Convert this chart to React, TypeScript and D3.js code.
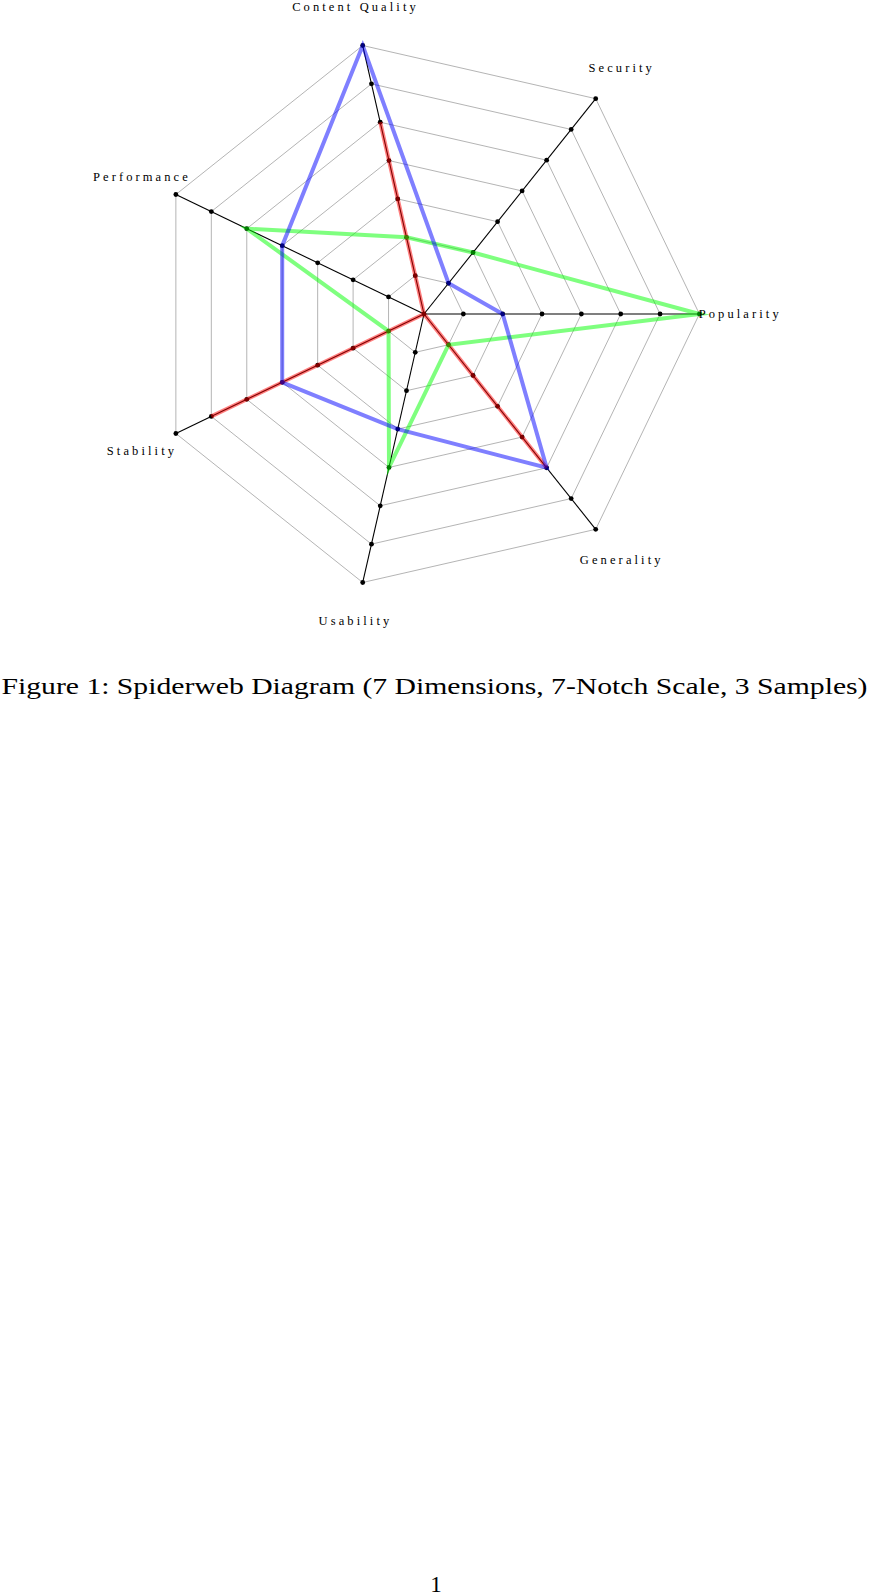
import { useEffect, useRef } from "react";
import * as d3 from "d3";

// spiderweb data: 7 dimensions, 7-notch scale, 3 samples
const axes = [
  "Popularity",
  "Security",
  "Content Quality",
  "Performance",
  "Stability",
  "Usability",
  "Generality",
];
const notches = [1, 2, 3, 4, 5, 6, 7];
const blueSample = [2, 1, 7, 4, 4, 3, 5];
const greenSample = [7, 2, 2, 5, 1, 4, 1];
const redSample = [0, 0, 5, 0, 6, 0, 5];
const caption =
  "Figure 1: Spiderweb Diagram (7 Dimensions, 7-Notch Scale, 3 Samples)";
const pageNumber = "1";

export default function App() {
  const svgRef = useRef<SVGSVGElement | null>(null);
  const width = 869;
  const height = 1596;
  const cx = 424;
  const cy = 314;
  const radius = 275.4;

  const renderChart = () => {
    const rScale = d3.scaleLinear().domain([0, 7]).range([0, radius]);
    // radial angle: 0 = up, clockwise; first axis points right, then counter-clockwise
    const aScale = d3
      .scaleLinear()
      .domain([0, axes.length])
      .range([Math.PI / 2, Math.PI / 2 - 2 * Math.PI]);

    const pt = (i: number, v: number): [number, number] => {
      const a = aScale(i);
      return [rScale(v) * Math.sin(a), -rScale(v) * Math.cos(a)];
    };

    const svg = d3.select(svgRef.current);
    svg.selectAll("*").remove();

    const g = svg.append("g").attr("transform", `translate(${cx},${cy})`);

    const radial = d3
      .lineRadial<number>()
      .angle((_, i) => aScale(i))
      .radius((d) => rScale(d))
      .curve(d3.curveLinearClosed);

    // grid rings
    g.selectAll(".ring")
      .data(notches)
      .enter()
      .append("path")
      .attr("class", "ring")
      .attr("d", (n) => radial(axes.map(() => n)))
      .attr("fill", "none")
      .attr("stroke", "#a6a6a6")
      .attr("stroke-width", 0.85);

    // axes
    g.selectAll(".axis")
      .data(axes)
      .enter()
      .append("line")
      .attr("class", "axis")
      .attr("x1", 0)
      .attr("y1", 0)
      .attr("x2", (_, i) => pt(i, 7)[0])
      .attr("y2", (_, i) => pt(i, 7)[1])
      .attr("stroke", "#000")
      .attr("stroke-width", 1.1);

    // notch dots
    const dots = axes.flatMap((_, i) => notches.map((n) => pt(i, n)));
    dots.push([0, 0]);
    g.selectAll(".notch")
      .data(dots)
      .enter()
      .append("circle")
      .attr("class", "notch")
      .attr("cx", (d) => d[0])
      .attr("cy", (d) => d[1])
      .attr("r", 2.4)
      .attr("fill", "#000");

    // samples
    const samples = [
      { values: redSample, color: "rgb(255,0,0)" },
      { values: greenSample, color: "rgb(0,255,0)" },
      { values: blueSample, color: "rgb(0,0,255)" },
    ];
    g.selectAll(".sample")
      .data(samples)
      .enter()
      .append("path")
      .attr("class", "sample")
      .attr("d", (s) => radial(s.values))
      .attr("fill", "none")
      .attr("stroke", (s) => s.color)
      .attr("stroke-opacity", 0.5)
      .attr("stroke-width", 4)
      .attr("stroke-linejoin", "miter")
      .attr("stroke-miterlimit", 10);

    // axis labels
    g.selectAll(".label")
      .data(axes)
      .enter()
      .append("text")
      .attr("class", "label")
      .attr("x", (_, i) => pt(i, 8)[0] + 1.5)
      .attr("y", (_, i) => pt(i, 8)[1] + 4)
      .attr("text-anchor", "middle")
      .attr("font-family", "'Liberation Serif', serif")
      .attr("font-size", 12.5)
      .attr("letter-spacing", 3.1)
      .attr("fill", "#000")
      .text((d) => d);

    // caption and page number
    svg
      .append("text")
      .attr("x", 1.5)
      .attr("y", 694)
      .attr("font-family", "'Liberation Serif', serif")
      .attr("font-size", 24)
      .attr("textLength", 866)
      .attr("lengthAdjust", "spacingAndGlyphs")
      .attr("fill", "#000")
      .text(caption);

    svg
      .append("text")
      .attr("x", 436)
      .attr("y", 1592)
      .attr("text-anchor", "middle")
      .attr("font-family", "'Liberation Serif', serif")
      .attr("font-size", 23)
      .attr("fill", "#000")
      .text(pageNumber);
  };

  useEffect(() => {
    renderChart();
  }, []);

  return (
    <svg
      ref={svgRef}
      width={width}
      height={height}
      style={{ position: "absolute", left: 0, top: 0, background: "#fff" }}
    />
  );
}
